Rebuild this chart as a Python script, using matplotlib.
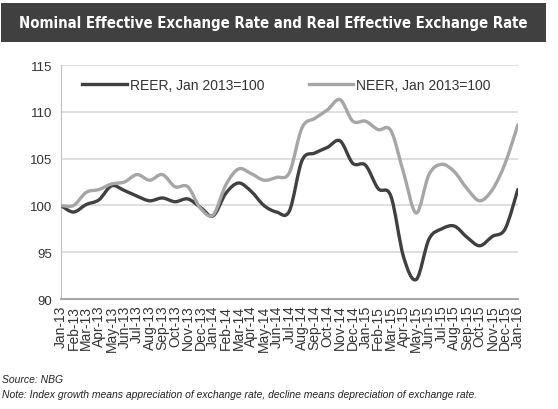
import matplotlib
matplotlib.use("Agg")
import matplotlib.pyplot as plt
from matplotlib.patches import Rectangle, PathPatch
from matplotlib.path import Path
from matplotlib.lines import Line2D

months = ["Jan-13", "Feb-13", "Mar-13", "Apr-13", "May-13", "Jun-13", "Jul-13", "Aug-13",
          "Sep-13", "Oct-13", "Nov-13", "Dec-13", "Jan-14", "Feb-14", "Mar-14", "Apr-14",
          "May-14", "Jun-14", "Jul-14", "Aug-14", "Sep-14", "Oct-14", "Nov-14", "Dec-14",
          "Jan-15", "Feb-15", "Mar-15", "Apr-15", "May-15", "Jun-15", "Jul-15", "Aug-15",
          "Sep-15", "Oct-15", "Nov-15", "Dec-15", "Jan-16"]

reer = [100.0, 99.3, 100.1, 100.6, 102.1, 101.6, 101.0, 100.5, 100.8, 100.4, 100.7, 99.8,
        98.9, 101.3, 102.4, 101.5, 100.0, 99.3, 99.4, 104.8, 105.6, 106.2, 106.9, 104.5,
        104.3, 101.8, 101.0, 94.5, 92.1, 96.4, 97.5, 97.8, 96.6, 95.7, 96.7, 97.5, 101.7]

neer = [100.0, 100.0, 101.4, 101.7, 102.3, 102.5, 103.3, 102.7, 103.3, 102.0, 102.0, 99.7,
        99.0, 102.2, 103.9, 103.4, 102.7, 103.0, 103.5, 108.3, 109.3, 110.2, 111.3, 109.0,
        109.0, 108.1, 108.0, 103.5, 99.2, 103.3, 104.4, 103.6, 101.8, 100.5, 101.7, 104.5,
        108.6]

yticks = [90, 95, 100, 105, 110, 115]


def smooth_path(xs, ys):
    # Excel-style "smoothed line": cubic Bezier segments through every point
    pts = list(zip(xs, ys))
    verts = [pts[0]]
    codes = [Path.MOVETO]
    n = len(pts)
    for i in range(n - 1):
        p0 = pts[i - 1] if i > 0 else pts[i]
        p1 = pts[i]
        p2 = pts[i + 1]
        p3 = pts[i + 2] if i + 2 < n else pts[i + 1]
        c1 = (p1[0] + (p2[0] - p0[0]) / 6, p1[1] + (p2[1] - p0[1]) / 6)
        c2 = (p2[0] - (p3[0] - p1[0]) / 6, p2[1] - (p3[1] - p1[1]) / 6)
        verts += [c1, c2, p2]
        codes += [Path.CURVE4] * 3
    return Path(verts, codes)


plt.rcParams["font.family"] = ["Liberation Sans", "DejaVu Sans"]

fig = plt.figure(figsize=(5.58, 4.10), dpi=100)

# dark title band
fig.patches.append(Rectangle((0.002, 0.895), 0.977, 0.095, transform=fig.transFigure,
                             facecolor="#404040", edgecolor="none", zorder=0))
title = fig.text(0.49, 0.942, "Nominal Effective Exchange Rate and Real Effective Exchange Rate",
                 ha="center", va="center", color="white", fontsize=13.5, fontweight="bold",
                 family=["DejaVu Sans"], fontstretch="condensed")

ax = fig.add_axes([0.109, 0.268, 0.819, 0.571])
x = list(range(len(months)))
ax.add_patch(PathPatch(smooth_path(x, reer), facecolor="none", edgecolor="#404040",
                       lw=2.4, capstyle="round", joinstyle="round", zorder=3))
ax.add_patch(PathPatch(smooth_path(x, neer), facecolor="none", edgecolor="#a6a6a6",
                       lw=2.4, capstyle="round", joinstyle="round", zorder=3))

ax.set_xlim(0, len(months) - 1)
ax.set_ylim(90, 115)
ax.set_yticks(yticks)
ax.set_yticklabels([str(v) for v in yticks], fontsize=9.5, color="#333333")
ax.set_xticks(x)
ax.set_xticklabels(months, rotation=90, fontsize=10, color="#333333")
ax.tick_params(axis="both", length=0, pad=6)
ax.tick_params(axis="x", pad=4)

ax.grid(axis="y", color="#d9d9d9", lw=1.2)
ax.set_axisbelow(True)
for s in ["top", "right"]:
    ax.spines[s].set_visible(False)
ax.spines["left"].set_color("#bfbfbf")
ax.spines["bottom"].set_color("#a6a6a6")
ax.spines["bottom"].set_linewidth(1.4)

handles = [Line2D([], [], color="#404040", lw=2.4), Line2D([], [], color="#a6a6a6", lw=2.4)]
ax.legend(handles, ["REER, Jan 2013=100", "NEER, Jan 2013=100"], loc="upper left", ncol=2,
          frameon=False, fontsize=10, handlelength=3.2, handletextpad=0.2, columnspacing=3.2,
          bbox_to_anchor=(0.02, 1.0), labelcolor="#333333")

fig.text(0.004, 0.066, "Source: NBG", fontsize=7.5, style="italic", color="#222222")
fig.text(0.004, 0.03, "Note: Index growth means appreciation of exchange rate, decline means "
         "depreciation of exchange rate.", fontsize=7.5, style="italic", color="#222222")

# keep the title inside the band if no condensed face is available
fig.canvas.draw()
w = title.get_window_extent().width
if w > 510:
    title.set_fontsize(13.5 * 510 / w)

fig.savefig("out.png", dpi=100)
